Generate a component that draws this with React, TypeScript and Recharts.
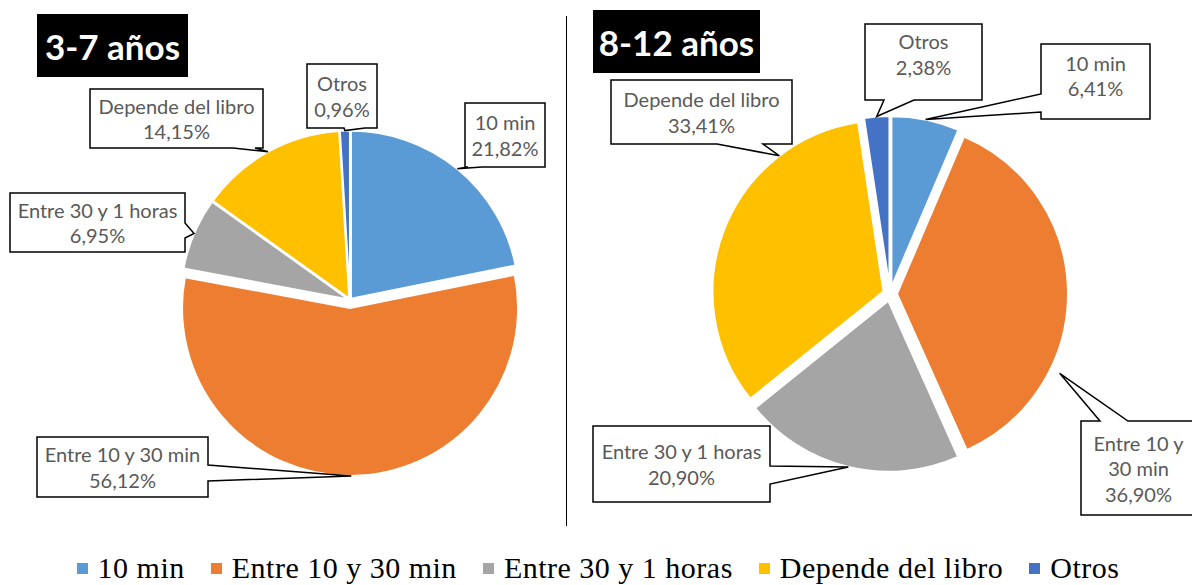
import React from 'react';
import { PieChart, Pie, Cell, Sector, Legend } from 'recharts';

const categories = ['10 min', 'Entre 10 y 30 min', 'Entre 30 y 1 horas', 'Depende del libro', 'Otros'];
const colors = ['#5B9BD5', '#ED7D31', '#A5A5A5', '#FFC000', '#4472C4'];
const valuesYoung = [21.82, 56.12, 6.95, 14.15, 0.96]; // 3-7 años
const valuesOld = [6.41, 36.9, 20.9, 33.41, 2.38]; // 8-12 años

const dataYoung = categories.map((name, i) => ({ name, value: valuesYoung[i] }));
const dataOld = categories.map((name, i) => ({ name, value: valuesOld[i] }));

// layout only: explosion per slice and callout boxes
const explodeYoung = [1.5, 8, 1.5, 1.5, 1.5];
const explodeOld = [7, 7, 7, 7, 7];

type Side = 'top' | 'bottom' | 'left' | 'right';
// base = wedge start/end along the side (px from box corner), tip = clock angle override, out = tip beyond rim
type Box = { x: number; y: number; w: number; h: number; side: Side; base: [number, number]; tip?: number; out?: number; dy?: number };
const boxesYoung: Box[] = [
    { x: 465, y: 103, w: 80, h: 64, side: 'bottom', base: [3, 17] },
    { x: 37, y: 437, w: 171, h: 60, side: 'right', base: [28, 44] },
    { x: 10, y: 193, w: 175, h: 59, side: 'right', base: [30, 45] },
    { x: 90, y: 89, w: 173, h: 59, side: 'bottom', base: [143, 165] },
    { x: 307, y: 64, w: 70, h: 64, side: 'bottom', base: [37, 58] },
];
const boxesOld: Box[] = [
    { x: 1041, y: 44, w: 109, h: 75, side: 'left', base: [50, 68], dy: -6 },
    { x: 1081, y: 421, w: 115, h: 94, side: 'top', base: [19, 47], tip: 116, out: 10 },
    { x: 593, y: 426, w: 177, h: 76, side: 'right', base: [40, 58] },
    { x: 611, y: 80, w: 181, h: 64, side: 'bottom', base: [106, 152], tip: 322.5 },
    { x: 865, y: 24, w: 117, h: 76, side: 'bottom', base: [19, 49], dy: -8 },
];

const RAD = Math.PI / 180;
const LABEL_SIZE = 20;
const LABEL_FONT = `${LABEL_SIZE}px Lato`;

const polar = (cx: number, cy: number, r: number, angle: number) => ({
    x: cx + r * Math.cos(-angle * RAD),
    y: cy + r * Math.sin(-angle * RAD),
});

let ctx: CanvasRenderingContext2D | null = null;
const measure = (s: string) => {
    if (!ctx) ctx = document.createElement('canvas').getContext('2d');
    if (!ctx) return s.length * 9.5;
    ctx.font = LABEL_FONT;
    return ctx.measureText(s).width;
};

const wrap = (text: string, maxW: number) => {
    const words = text.split(' ');
    const lines: string[] = [];
    let cur = '';
    words.forEach((w) => {
        const t = cur ? cur + ' ' + w : w;
        if (cur && measure(t) > maxW) {
            lines.push(cur);
            cur = w;
        } else cur = t;
    });
    if (cur) lines.push(cur);
    return lines;
};

const fmt = (v: number) => v.toFixed(2).replace('.', ',') + '%';

const explodedShape = (explode: number[]) => (props: any) => {
    const { cx, cy, startAngle, endAngle, name } = props;
    const idx = categories.indexOf(name ?? props.payload?.name);
    const d = explode[idx] ?? 0;
    const o = polar(0, 0, d, (startAngle + endAngle) / 2);
    return <Sector {...props} cx={cx + o.x} cy={cy + o.y} />;
};

// callout box with a wedge pointing to the slice
const calloutPath = (b: Box, tip: { x: number; y: number }) => {
    const { x, y, w, h } = b;
    const [s, e] = b.base;
    switch (b.side) {
        case 'bottom':
            return `M${x},${y} H${x + w} V${y + h} H${x + e} L${tip.x},${tip.y} L${x + s},${y + h} H${x} Z`;
        case 'top':
            return `M${x},${y} H${x + s} L${tip.x},${tip.y} L${x + e},${y} H${x + w} V${y + h} H${x} Z`;
        case 'right':
            return `M${x},${y} H${x + w} V${y + s} L${tip.x},${tip.y} L${x + w},${y + e} V${y + h} H${x} Z`;
        default:
            return `M${x},${y} H${x + w} V${y + h} H${x} V${y + e} L${tip.x},${tip.y} L${x},${y + s} Z`;
    }
};

const calloutLabel = (boxes: Box[], explode: number[]) => (props: any) => {
    const { cx, cy, midAngle, outerRadius, name, value } = props;
    const idx = categories.indexOf(name ?? props.payload?.name);
    const b = boxes[idx];
    if (!b) return null;
    const off = polar(0, 0, explode[idx] ?? 0, midAngle);
    const angle = b.tip !== undefined ? 90 - b.tip : midAngle;
    const tip = polar(cx + off.x, cy + off.y, outerRadius + (b.out ?? 0), angle);
    const lines = [...wrap(name, b.w - 12), fmt(value)];
    const lh = 25.5;
    const top = b.y + b.h / 2 - (lines.length * lh) / 2 + (b.dy ?? 0);
    return (
        <g>
            <path d={calloutPath(b, tip)} fill="#fff" stroke="#000" strokeWidth={1.5} strokeLinejoin="miter" />
            {lines.map((l, i) => (
                <text
                    key={i}
                    x={b.x + b.w / 2}
                    y={top + lh * i + lh / 2}
                    textAnchor="middle"
                    dominantBaseline="central"
                    fill="#595959"
                    fontSize={LABEL_SIZE}
                    fontFamily="Lato"
                >
                    {l}
                </text>
            ))}
        </g>
    );
};

const LegendContent = () => (
    <div
        style={{
            display: 'flex',
            justifyContent: 'center',
            alignItems: 'center',
            gap: 26,
            fontFamily: '"Liberation Serif"',
            fontSize: 30,
            lineHeight: '30px',
            letterSpacing: 0.5,
            color: '#000',
            paddingLeft: 4,
        }}
    >
        {categories.map((c, i) => (
            <span key={c} style={{ display: 'flex', alignItems: 'center' }}>
                <span style={{ width: 11, height: 11, background: colors[i], marginRight: 10, marginTop: 1 }} />
                {c}
            </span>
        ))}
    </div>
);

const titleStyle: React.CSSProperties = {
    position: 'absolute',
    background: '#000',
    color: '#fff',
    fontFamily: 'Lato',
    fontWeight: 700,
    fontSize: 35,
    display: 'flex',
    alignItems: 'center',
    justifyContent: 'center',
    height: 63,
};

export default function App() {
    return (
        <div style={{ position: 'absolute', left: 0, top: 0, width: 1192, height: 585, background: '#fff' }}>
            <PieChart width={1192} height={585} margin={{ top: 0, right: 0, bottom: 0, left: 0 }}>
                <Pie
                    data={dataYoung}
                    dataKey="value"
                    nameKey="name"
                    cx={350}
                    cy={300}
                    outerRadius={168}
                    startAngle={90}
                    endAngle={-270}
                    stroke="#fff"
                    strokeWidth={2}
                    shape={explodedShape(explodeYoung)}
                    label={calloutLabel(boxesYoung, explodeYoung)}
                    labelLine={false}
                    isAnimationActive={false}
                >
                    {dataYoung.map((d, i) => (
                        <Cell key={d.name} fill={colors[i]} />
                    ))}
                </Pie>
                <Pie
                    data={dataOld}
                    dataKey="value"
                    nameKey="name"
                    cx={890}
                    cy={294}
                    outerRadius={171}
                    startAngle={90}
                    endAngle={-270}
                    stroke="#fff"
                    strokeWidth={2}
                    legendType="none"
                    shape={explodedShape(explodeOld)}
                    label={calloutLabel(boxesOld, explodeOld)}
                    labelLine={false}
                    isAnimationActive={false}
                >
                    {dataOld.map((d, i) => (
                        <Cell key={d.name} fill={colors[i]} />
                    ))}
                </Pie>
                <Legend verticalAlign="bottom" content={<LegendContent />} wrapperStyle={{ bottom: 2 }} />
            </PieChart>
            <div style={{ ...titleStyle, left: 37, top: 14, width: 151 }}>3-7 años</div>
            <div style={{ ...titleStyle, left: 593, top: 10, width: 167 }}>8-12 años</div>
            <div style={{ position: 'absolute', left: 566, top: 16, width: 1, height: 510, background: '#000' }} />
        </div>
    );
}
